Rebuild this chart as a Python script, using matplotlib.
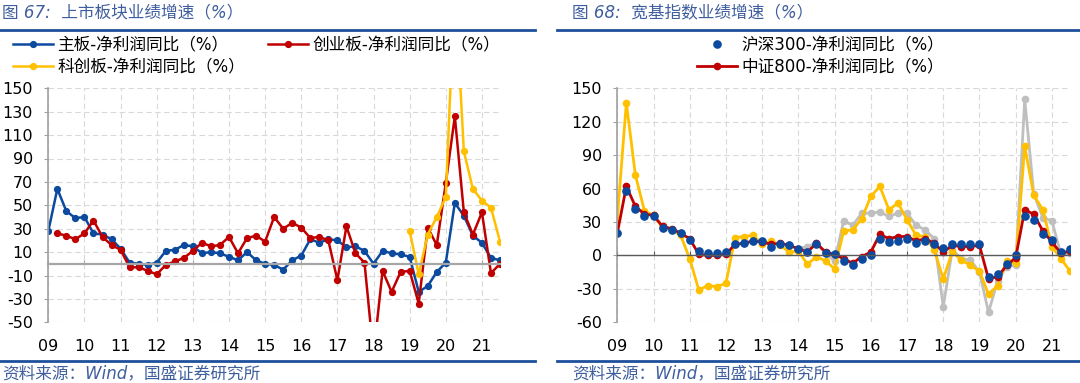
import numpy as np
import pandas as pd
import matplotlib
matplotlib.use('Agg')
import matplotlib.pyplot as plt
from matplotlib.lines import Line2D

plt.rcParams['font.family'] = ['DejaVu Sans', 'Noto Sans CJK SC']
plt.rcParams['axes.unicode_minus'] = False

# quarters 2009Q1 .. 2021Q3
quarters = pd.period_range('2009Q1', '2021Q3', freq='Q')
year_labels = ['09', '10', '11', '12', '13', '14', '15', '16', '17', '18', '19', '20', '21']
nan = np.nan

# ---- left: 上市板块业绩增速 ----
main_board = [28, 64, 45, 39, 40, 26, 25, 21, 13, 1, 0, -1, 1, 11, 12, 16,
              15, 9, 10, 9, 6, 3, 10, 3, 0, -1, -5, 3, 7, 21, 18, 21,
              20, 14, 15, 11, 0, 11, 9, 8, 6, -24, -19, -7, 1, 52, 41, 24,
              18, 5, 3]
gem_board = [nan, 26, 24, 21, 26, 37, 23, 16, 12, -3, -3, -6, -9, -1, 2, 5,
             11, 18, 15, 16, 23, 9, 22, 24, 19, 40, 30, 35, 31, 22, 23, 20,
             -14, 32, 9, 1, -78, -6, -24, -7, -6, -34, 31, 16, 69, 126, 44, 25,
             44, -8, 0]
star_board = [nan] * 40 + [28, -9, 25, 40, 57, 240, 96, 64, 54, 48, 19]

# ---- right: 宽基指数业绩增速 ----
hs300 = [20, 58, 42, 35, 35, 25, 23, 20, 14, 4, 2, 2, 3, 10, 11, 13,
         13, 8, 10, 9, 6, 3, 10, 2, 1, -5, -9, -3, 0, 15, 12, 13,
         15, 11, 13, 10, 7, 10, 10, 10, 10, -19, -17, -8, 0, 35, 32, 19,
         14, 3, 6]
zz800 = [20, 62, 44, 37, 36, 26, 24, 20, 15, 1, 0, 0, 1, 10, 11, 13,
         12, 10, 11, 9, 6, 3, 11, 3, 1, -3, -7, -1, 3, 19, 15, 17,
         17, 13, 15, 11, 3, 9, 8, 8, 9, -21, -19, -9, -2, 41, 37, 22,
         12, 2, 4]
yellow_idx = [33, 137, 72, 40, 36, 25, 23, 18, -3, -31, -27, -28, -25, 16, 17, 18,
              10, 13, 9, 3, 4, -8, -1, -5, -12, 22, 23, 33, 53, 62, 41, 47,
              32, 18, 17, 5, -21, 3, -4, -9, -14, -35, -27, -5, -7, 98, 54, 41,
              8, -3, -14]
gray_idx = [nan] * 20 + [6, 8, 11, 2, -5, 31, 27, 38, 38, 39, 35, 38,
                         38, 27, 23, 15, -46, 5, -3, -4, -15, -51, -23, -10,
                         -9, 140, 55, 34, 31, 1, 2]

BLUE = '#0B4A9E'
RED = '#C00000'
YELLOW = '#FFC000'
GRAY = '#BFBFBF'
RULE = '#1E4F9C'
TITLE_C = '#3F5E9E'
AXIS_C = '#A0A0A0'

x = np.arange(len(quarters))
year_pos = x[quarters.quarter == 1]

W, H = 1080, 383
fig = plt.figure(figsize=(W / 100, H / 100), dpi=100)


def style_axes(ax, ylim, yticks, zero_color, zero_lw):
    ax.set_xlim(0, 50)
    ax.set_ylim(*ylim)
    ax.set_yticks(yticks)
    ax.set_xticks(year_pos)
    ax.grid(True, color='#D9D9D9', lw=0.8, linestyle=(0, (5, 3)))
    ax.set_axisbelow(True)
    for s in ['top', 'right']:
        ax.spines[s].set_visible(False)
    ax.spines['left'].set_color(AXIS_C)
    ax.spines['left'].set_linewidth(1.2)
    # x axis line sits on zero, labels go to the bottom
    ax.spines['bottom'].set_position(('data', 0))
    ax.spines['bottom'].set_color(zero_color)
    ax.spines['bottom'].set_linewidth(zero_lw)
    ax.tick_params(axis='x', direction='in', length=3, color=zero_color,
                   labelbottom=False)
    ax.tick_params(axis='y', direction='out', length=3, color=AXIS_C,
                   labelsize=11.5, pad=8)
    sec = ax.secondary_xaxis('bottom')
    sec.set_xticks(year_pos, year_labels)
    sec.spines['bottom'].set_visible(False)
    sec.tick_params(length=0, labelsize=11.5, pad=12)


# left panel
axl = fig.add_axes([48.3 / W, 1 - 322.3 / H, 451.7 / W, 234 / H])
style_axes(axl, (-50, 150), np.arange(-50, 151, 20), '#A6A6A6', 1.6)
h1, = axl.plot(x, main_board, color=BLUE, lw=1.8, marker='o', ms=4.2)
h2, = axl.plot(x, gem_board, color=RED, lw=1.8, marker='o', ms=4.2)
h3, = axl.plot(x, star_board, color=YELLOW, lw=1.8, marker='o', ms=4.2)

# right panel
axr = fig.add_axes([617.3 / W, 1 - 322.3 / H, 452.7 / W, 234 / H])
style_axes(axr, (-60, 150), np.arange(-60, 151, 30), '#595959', 1.0)
axr.plot(x, gray_idx, color=GRAY, lw=2.0, marker='o', ms=4.5)
axr.plot(x, yellow_idx, color=YELLOW, lw=2.0, marker='o', ms=4.5)
r2, = axr.plot(x, zz800, color=RED, lw=2.0, marker='o', ms=4.5)
r1, = axr.plot(x, hs300, ls='none', color=BLUE, marker='o', ms=5.2)

leg_prop = {'family': ['DejaVu Sans', 'Noto Sans CJK SC'], 'size': 12}
fig.legend([h1, h3, h2],
           ['主板-净利润同比（%）', '科创板-净利润同比（%）', '创业板-净利润同比（%）'],
           ncol=2, loc='upper left', bbox_to_anchor=(13 / W, 1 - 36 / H),
           frameon=False, prop=leg_prop, handlelength=2.4, handletextpad=0.25,
           columnspacing=1.4, borderpad=0, borderaxespad=0, labelspacing=0.25)
fig.legend([r1, r2], ['沪深300-净利润同比（%）', '中证800-净利润同比（%）'],
           loc='upper left', bbox_to_anchor=(697 / W, 1 - 36 / H),
           frameon=False, prop=leg_prop, handlelength=2.4, handletextpad=0.25,
           borderpad=0, borderaxespad=0, labelspacing=0.25)

# titles, rules and sources
title_font = {'family': ['DejaVu Sans', 'Noto Sans CJK SC'], 'size': 12,
              'style': 'italic', 'color': TITLE_C}
fig.text(2 / W, 1 - 12 / H, '图 67:  上市板块业绩增速（%）', va='center', **title_font)
fig.text(572 / W, 1 - 12 / H, '图 68:  宽基指数业绩增速（%）', va='center', **title_font)
fig.text(2 / W, 1 - 373 / H, '资料来源：Wind，国盛证券研究所', va='center', **title_font)
fig.text(572 / W, 1 - 373 / H, '资料来源：Wind，国盛证券研究所', va='center', **title_font)

for x0, x1 in [(0, 535), (557, 1080)]:
    for yy in (29.5, 361):
        fig.add_artist(Line2D([x0 / W, x1 / W], [1 - yy / H] * 2,
                              color=RULE, lw=2.0))

fig.savefig('out.png', dpi=100)
